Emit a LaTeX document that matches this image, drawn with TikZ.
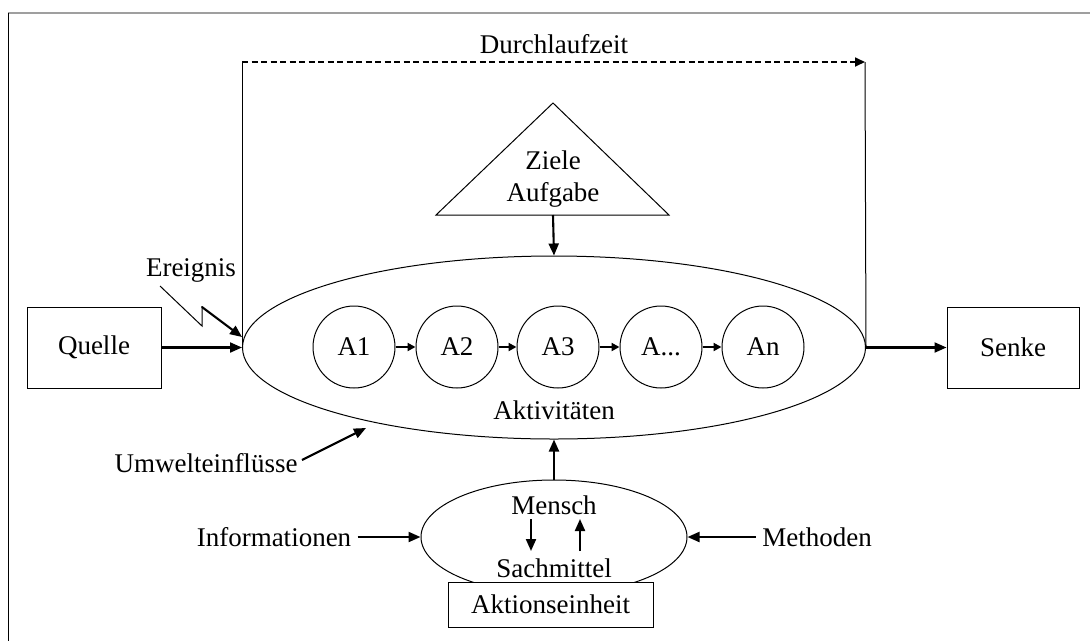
\documentclass[tikz,border=0pt]{standalone}
\usepackage{fontspec}
\setmainfont{Liberation Serif}
\usetikzlibrary{
  arrows.meta,
  positioning,
  shapes.geometric,
  calc
}

\tikzset{
  box/.style={draw, line width=1pt, minimum width=134pt, minimum height=81pt, inner sep=0pt},
  act/.style={draw, circle, line width=1pt, minimum size=82pt, inner sep=0pt},
  lbl/.style={inner sep=6pt},
  flow/.style={-{Triangle[length=12pt,width=10pt]}, line width=2.1pt},
  hop/.style={-{Triangle[length=8pt,width=8pt]}, line width=2.1pt}
}

\begin{document}
\begin{tikzpicture}[x=1pt, y=-1pt, font=\fontsize{27}{32}\selectfont, line width=1pt]
  \useasboundingbox (0,0) rectangle (1090,641);
  \draw[gray!75, line width=2pt] (8,13) -- (1090,13);
  \draw (8,13) -- (8,641);

  % process with its activities
  \node[draw, ellipse, minimum width=623pt, minimum height=183pt, inner sep=0pt] (proc) at (554,347.5) {};
  \node[lbl] (actlbl) at (554,410) {Aktivitäten};
  \foreach \name/\txt/\x in {a1/A1/354, a2/A2/457, a3/A3/558, a4/{A{...}}/661, a5/An/763}
    \node[act] (\name) at (\x,347) {\txt};
  \draw[hop] (a1) -- (a2);
  \draw[hop] (a2) -- (a3);
  \draw[hop] (a3) -- (a4);
  \draw[hop] (a4) -- (a5);

  \node[box] (src) at (94,347.5) {Quelle};
  \node[box, minimum width=132pt] (sink) at (1013,347.5) {Senke};
  \draw[flow] (src) -- (proc.west);
  \draw[flow] (proc.east) -- (sink);

  % lead time
  \coordinate (tl) at (242,62);
  \coordinate (tr) at (865,62);
  \draw (proc.west) -- (tl);
  \draw[-{Triangle[length=10pt,width=9pt]}, line width=1.7pt, dash pattern=on 6pt off 3.5pt] (tl) -- (tr);
  \draw (tr) -- (proc.east);
  \node[lbl] (lead) at (554,44) {Durchlaufzeit};

  % goals
  \coordinate (tri) at (553,215);
  \draw (553,103) -- (669,215) -- (436,215) -- cycle;
  \node[lbl, align=center] (goal) at (553,179) {Ziele\\Aufgabe};
  \draw[flow] (tri) -- (proc.north);

  % event
  \node[lbl] (evt) at (191,270) {Ereignis};
  \coordinate (zz0) at (160,286);
  \coordinate (zz1) at (202,326);
  \coordinate (zz2) at (202,307);
  \coordinate (zz3) at (242,337);
  \draw (zz0) -- (zz1) -- (zz2);
  \draw[flow, line cap=round] (zz2) -- (zz3);

  % environment
  \node[lbl] (env) at (206,463) {Umwelteinflüsse};
  \coordinate (envtip) at (366,428);
  \draw[flow] ($(env.east)+(-2,-3)$) -- (envtip);

  % action unit
  \node[draw, ellipse, minimum width=266pt, minimum height=114pt, inner sep=0pt] (unit) at (554,537) {};
  \draw[flow] (unit.north) -- (proc.south);
  \node[lbl] (man) at (554,505) {Mensch};
  \node[lbl] (tool) at (554,568) {Sachmittel};
  \draw[flow] ($(unit)+(-23,-18)$) -- ($(unit)+(-23,14)$);
  \draw[flow] ($(unit)+(26,14)$) -- ($(unit)+(26,-18)$);
  \node[draw, fill=white, minimum width=205pt, minimum height=45pt, inner sep=0pt] (unitbox) at (550.5,604.5) {Aktionseinheit};

  \node[lbl] (info) at (274,537) {Informationen};
  \node[lbl] (meth) at (817,537) {Methoden};
  \draw[flow] (info.east) -- (unit.west);
  \draw[flow] (meth.west) -- (unit.east);
\end{tikzpicture}
\end{document}
